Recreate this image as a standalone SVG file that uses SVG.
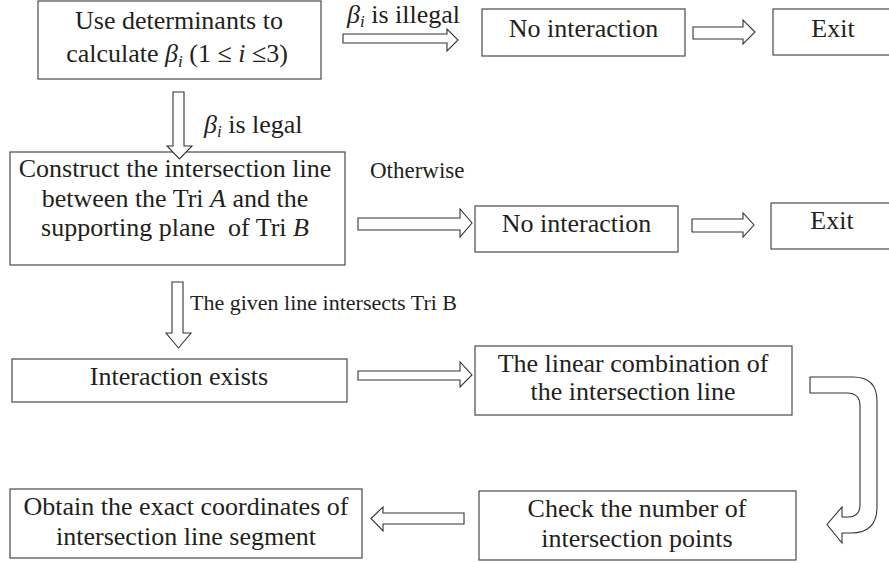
<svg xmlns="http://www.w3.org/2000/svg" width="889" height="563" viewBox="0 0 889 563" font-family="'Liberation Serif', 'Times New Roman', Times, serif">
<style>
.box{fill:#fff;stroke:#4a4a4a;stroke-width:1.2}
.t{font-size:26px;fill:#231f20;text-anchor:middle}
.l{font-size:22px;fill:#231f20}
.lb{font-size:26px;fill:#231f20}
.arr{fill:#fff;stroke:#333;stroke-width:1.1;stroke-linejoin:miter}
.it{font-style:italic}
.sub{font-style:italic;font-size:17px}
</style>
<rect width="889" height="563" fill="#fff"/>
<g id="n1"><rect class="box" x="38" y="1" width="283" height="78"/>
<text class="t" x="179" y="29">Use determinants to</text>
<text class="t" x="177" y="62">calculate <tspan class="it">β</tspan><tspan class="sub" dy="5">i</tspan><tspan dy="-5"> (1 ≤ </tspan><tspan class="it">i</tspan> ≤3)</text></g>
<g id="n2"><rect class="box" x="482" y="9" width="203" height="47"/><text class="t" x="583.5" y="37">No interaction</text></g>
<g id="n3"><rect class="box" x="773" y="9" width="120" height="46"/><text class="t" x="833" y="37">Exit</text></g>
<g id="n4"><rect class="box" x="10" y="152" width="335" height="113"/>
<text class="t" x="175" y="177">Construct the intersection line</text>
<text class="t" x="175" y="207">between the Tri <tspan class="it">A</tspan> and the</text>
<text class="t" x="175" y="236" xml:space="preserve">supporting plane  of Tri <tspan class="it">B</tspan></text></g>
<g id="n5"><rect class="box" x="475" y="206" width="203" height="46"/><text class="t" x="576.5" y="232">No interaction</text></g>
<g id="n6"><rect class="box" x="771" y="203" width="122" height="46"/><text class="t" x="832" y="229">Exit</text></g>
<g id="n7"><rect class="box" x="12" y="359" width="335" height="43"/><text class="t" x="179" y="385">Interaction exists</text></g>
<g id="n8"><rect class="box" x="475" y="346" width="317" height="69"/>
<text class="t" x="633" y="372">The linear combination of</text>
<text class="t" x="633" y="400">the intersection line</text></g>
<g id="n9"><rect class="box" x="479" y="491" width="317" height="69"/>
<text class="t" x="637" y="517">Check the number of</text>
<text class="t" x="637" y="547">intersection points</text></g>
<g id="n10"><rect class="box" x="10" y="489" width="352" height="69"/>
<text class="t" x="186" y="515">Obtain the exact coordinates of</text>
<text class="t" x="186" y="545">intersection line segment</text></g>
<g id="connectors">
<path class="arr" d="M343,34 H447 V29 L458,40 L447,51 V43 H343 Z"/>
<path class="arr" d="M693,27 H743 V20 L755,32 L743,44 V39 H693 Z"/>
<path class="arr" d="M173,92 V146 H167 L179.5,159 L192,146 H184 V92 Z"/>
<path class="arr" d="M358,218 H460 V209 L472,223 L460,237 V230 H358 Z"/>
<path class="arr" d="M692,219 H743 V213 L754,225 L743,237 V232 H692 Z"/>
<path class="arr" d="M172,282 V333 H166 L178.5,348 L191,333 H183 V282 Z"/>
<path class="arr" d="M358,371 H460 V362 L472,375 L460,387 V380 H358 Z"/>
<path class="arr" d="M464,513 H383 V507 L371,518.5 L383,531 V524 H464 Z"/>
<path class="arr" d="M810,377 H853 Q877,377 877,401 V507 Q877,533 851,533 H842 V543 L827,524.5 L842,507 V517 H848 Q860,517 860,505 V406 Q860,393 847,393 H810 Z"/>
<text class="lb" x="347" y="23"><tspan class="it">β</tspan><tspan class="sub" dy="4">i</tspan><tspan dy="-4"> is illegal</tspan></text>
<text class="lb" x="204" y="133"><tspan class="it">β</tspan><tspan class="sub" dy="4">i</tspan><tspan dy="-4"> is legal</tspan></text>
<text class="l" x="370" y="178" style="font-size:23px">Otherwise</text>
<text class="l" x="190" y="310">The given line intersects Tri B</text>
</g>
</svg>
